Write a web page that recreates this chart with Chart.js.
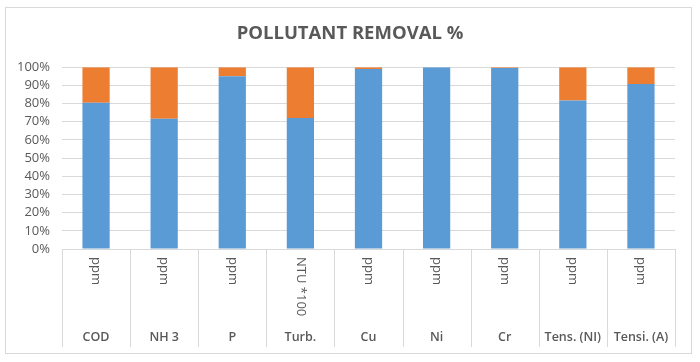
<!DOCTYPE html>
<html>
<head>
<meta charset="utf-8">
<script src="https://cdn.jsdelivr.net/npm/chart.js@4.4.0/dist/chart.umd.min.js"></script>
<style>
    html, body { margin: 0; padding: 0; background: #fff; }
</style>
</head>
<body>
<canvas id="chart" width="700" height="362"></canvas>
<script>
"use strict";

// Data
const categories = ["COD", "NH 3", "P", "Turb.", "Cu", "Ni", "Cr", "Tens. (NI)", "Tensi. (A)"];
const units = ["ppm", "ppm", "ppm", "NTU *100", "ppm", "ppm", "ppm", "ppm", "ppm"];
const removed = [80.5, 71.7, 95, 72, 99, 100, 99.6, 81.7, 90.7];
const remaining = [19.5, 28.3, 5, 28, 1, 0, 0.4, 18.3, 9.3];
const yTicks = [0, 10, 20, 30, 40, 50, 60, 70, 80, 90, 100];

const textColor = "#595959";
const lineColor = "#d9d9d9";

// Outer frame of the chart
const framePlugin = {
    id: "frame",
    beforeDraw(chart) {
        const ctx = chart.ctx;
        ctx.save();
        ctx.fillStyle = "#fff";
        ctx.fillRect(0, 0, chart.width, chart.height);
        ctx.strokeStyle = lineColor;
        ctx.lineWidth = 1;
        ctx.strokeRect(5.5, 7.5, 686, 346);
        ctx.restore();
    }
};

// Two-level category labels below the plot
const labelPlugin = {
    id: "twoLevelLabels",
    afterDraw(chart) {
        const ctx = chart.ctx;
        const x = chart.scales.x;
        const top = chart.chartArea.bottom;
        const bottom = x.bottom;
        const step = x.getPixelForValue(1) - x.getPixelForValue(0);
        ctx.save();
        ctx.strokeStyle = lineColor;
        ctx.lineWidth = 1;
        for (let i = 0; i <= categories.length; i++) {
            const bx = Math.round(x.getPixelForValue(i) - step / 2) + 0.5;
            ctx.beginPath();
            ctx.moveTo(bx, top);
            ctx.lineTo(bx, bottom);
            ctx.stroke();
        }
        ctx.fillStyle = textColor;
        categories.forEach((name, i) => {
            const cx = x.getPixelForValue(i);
            ctx.save();
            ctx.translate(cx, top + 8);
            ctx.rotate(Math.PI / 2);
            ctx.font = "13px 'Open Sans', sans-serif";
            ctx.textAlign = "left";
            ctx.textBaseline = "middle";
            ctx.fillText(units[i], 0, 0);
            ctx.restore();
            ctx.font = "600 12.5px 'Open Sans', sans-serif";
            ctx.textAlign = "center";
            ctx.textBaseline = "middle";
            ctx.fillText(name, cx, bottom - 10);
        });
        ctx.restore();
    }
};

new Chart(document.getElementById("chart"), {
    type: "bar",
    data: {
        labels: categories,
        datasets: [{
            label: "Removed",
            data: removed,
            backgroundColor: "#5b9bd5"
        }, {
            label: "Remaining",
            data: remaining,
            backgroundColor: "#ed7d31"
        }]
    },
    options: {
        responsive: false,
        animation: false,
        devicePixelRatio: 1,
        layout: {
            padding: { left: 0, right: 0, top: 0, bottom: 15 }
        },
        datasets: {
            bar: {
                categoryPercentage: 1,
                barPercentage: 0.4
            }
        },
        plugins: {
            legend: { display: false },
            tooltip: { enabled: false },
            title: {
                display: true,
                text: "POLLUTANT REMOVAL %",
                color: textColor,
                font: { family: "'Open Sans', sans-serif", size: 18.5, weight: "bold" },
                padding: { top: 23, bottom: 22 }
            }
        },
        scales: {
            x: {
                stacked: true,
                grid: { display: false },
                border: { display: false },
                ticks: { display: false },
                afterFit(scale) { scale.height = 98; }
            },
            y: {
                stacked: true,
                min: 0,
                max: 100,
                afterBuildTicks(scale) {
                    scale.ticks = yTicks.map(v => ({ value: v }));
                },
                afterFit(scale) { scale.width = 62; },
                grid: { color: lineColor, drawTicks: false },
                border: { display: false },
                ticks: {
                    autoSkip: false,
                    padding: 12,
                    color: textColor,
                    font: { family: "'Open Sans', sans-serif", size: 13 },
                    callback: v => v + "%"
                }
            },
            // empty right margin so the title stays centred on the whole chart
            yRight: {
                position: "right",
                min: 0,
                max: 100,
                grid: { display: false },
                border: { display: false },
                ticks: { display: false },
                afterFit(scale) { scale.width = 25; }
            }
        }
    },
    plugins: [framePlugin, labelPlugin]
});
</script>
</body>
</html>
